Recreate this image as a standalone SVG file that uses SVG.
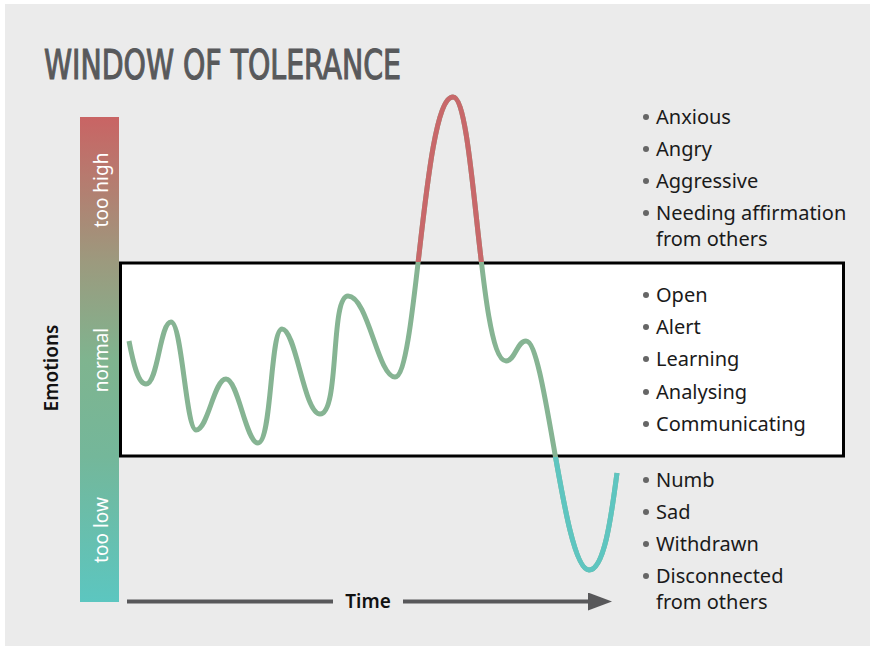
<svg xmlns="http://www.w3.org/2000/svg" width="871" height="650" viewBox="0 0 871 650">
  <style>
    .title { font-family: "DejaVu Sans Condensed", "DejaVu Sans", sans-serif; font-weight: normal; font-size: 40px; fill: #58595b; stroke: #58595b; stroke-width: 1.1; }
    .item { font-family: "Noto Sans", "Open Sans", sans-serif; font-size: 20px; fill: #1a1a1a; }
    .bar-label { font-family: "Noto Sans", "Open Sans", sans-serif; font-size: 19px; fill: #ffffff; text-anchor: middle; }
    .axis { font-family: "Noto Sans", "Open Sans", sans-serif; font-size: 19px; font-weight: 600; fill: #111111; text-anchor: middle; }
    .bullet { fill: #666666; }
    .curve { fill: none; stroke-width: 5; stroke-linecap: butt; stroke-linejoin: round; }
  </style>
  <defs>
    <linearGradient id="emoGrad" x1="0" y1="0" x2="0" y2="1">
      <stop offset="0" stop-color="#c96464"/>
      <stop offset="0.3" stop-color="#9c9a7e"/>
      <stop offset="0.5" stop-color="#7fb48f"/>
      <stop offset="0.7" stop-color="#74b79a"/>
      <stop offset="1" stop-color="#5cc6c0"/>
    </linearGradient>
    <clipPath id="clipHigh"><rect x="0" y="0" width="871" height="262"/></clipPath>
    <clipPath id="clipLow"><rect x="0" y="457" width="871" height="193"/></clipPath>
    <marker id="arrowHead" viewBox="0 0 24 18" refX="2" refY="9" markerWidth="24" markerHeight="18" markerUnits="userSpaceOnUse" orient="auto">
      <path d="M0,0 L24,9 L0,18 Z" fill="#58585a"/>
    </marker>
    <path id="curvePath" d="M129,341 C133,362 138,384 146,384 C158,384 160,322 171,322 C182,322 186,430 196,430 C208,430 214,379 226,379 C238,379 246,443 258,443 C272,443 270,329 282,329 C296,329 304,414 320,414 C340,414 330,296 348,296 C368,296 378,377 395,377 C417,377 423,97 453,97 C475,97 479,361 506,361 C515,361 517,341 526,341 C546,341 563,570 589,570 C605,570 612,510 617,473"/>
  </defs>

  <rect id="background" x="5" y="4" width="865" height="642" fill="#ebebeb"/>

  <g id="title">
    <text class="title" x="44" y="79" textLength="357" lengthAdjust="spacingAndGlyphs">WINDOW OF TOLERANCE</text>
  </g>

  <g id="emotion-scale">
    <rect x="80" y="117" width="39" height="485" fill="url(#emoGrad)"/>
    <text class="bar-label" transform="translate(108,190) rotate(-90)">too high</text>
    <text class="bar-label" transform="translate(108,360) rotate(-90)">normal</text>
    <text class="bar-label" transform="translate(108,530) rotate(-90)">too low</text>
  </g>

  <g id="emotions-label">
    <text class="axis" transform="translate(58,368) rotate(-90)">Emotions</text>
  </g>

  <g id="window-box">
    <rect x="120.5" y="263" width="723" height="193" fill="#ffffff" stroke="#000000" stroke-width="3"/>
  </g>

  <g id="connectors">
    <use href="#curvePath" class="curve" stroke="#86b493"/>
    <use href="#curvePath" class="curve" stroke="#c8686a" clip-path="url(#clipHigh)"/>
    <use href="#curvePath" class="curve" stroke="#5ec5c0" clip-path="url(#clipLow)"/>
    <line x1="127" y1="601.5" x2="333" y2="601.5" stroke="#58585a" stroke-width="4"/>
    <line x1="403" y1="601.5" x2="590" y2="601.5" stroke="#58585a" stroke-width="4" marker-end="url(#arrowHead)"/>
  </g>

  <g id="time-label">
    <text class="axis" x="368" y="608">Time</text>
  </g>

  <g id="list-high">
    <circle class="bullet" cx="646" cy="117" r="3"/><text class="item" x="656" y="124">Anxious</text>
    <circle class="bullet" cx="646" cy="149" r="3"/><text class="item" x="656" y="156">Angry</text>
    <circle class="bullet" cx="646" cy="181" r="3"/><text class="item" x="656" y="188">Aggressive</text>
    <circle class="bullet" cx="646" cy="213" r="3"/><text class="item" x="656" y="220">Needing affirmation</text>
    <text class="item" x="656" y="246">from others</text>
  </g>

  <g id="list-normal">
    <circle class="bullet" cx="646" cy="295" r="3"/><text class="item" x="656" y="302">Open</text>
    <circle class="bullet" cx="646" cy="327" r="3"/><text class="item" x="656" y="334">Alert</text>
    <circle class="bullet" cx="646" cy="359" r="3"/><text class="item" x="656" y="366">Learning</text>
    <circle class="bullet" cx="646" cy="392" r="3"/><text class="item" x="656" y="399">Analysing</text>
    <circle class="bullet" cx="646" cy="424" r="3"/><text class="item" x="656" y="431">Communicating</text>
  </g>

  <g id="list-low">
    <circle class="bullet" cx="646" cy="480" r="3"/><text class="item" x="656" y="487">Numb</text>
    <circle class="bullet" cx="646" cy="512" r="3"/><text class="item" x="656" y="519">Sad</text>
    <circle class="bullet" cx="646" cy="544" r="3"/><text class="item" x="656" y="551">Withdrawn</text>
    <circle class="bullet" cx="646" cy="576" r="3"/><text class="item" x="656" y="583">Disconnected</text>
    <text class="item" x="656" y="609">from others</text>
  </g>
</svg>
